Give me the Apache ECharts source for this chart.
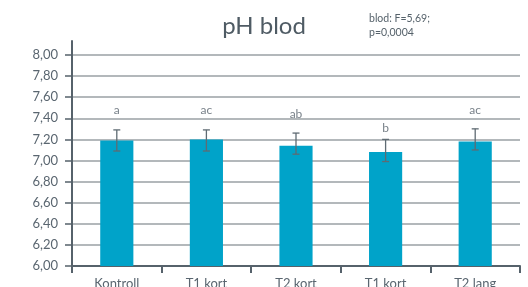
<!DOCTYPE html>
<html><head><meta charset="utf-8">
<script src="https://cdn.jsdelivr.net/npm/echarts@6/dist/echarts.min.js"></script>
<style>html,body{margin:0;padding:0;background:#fff}#c{width:528px;height:287px}</style>
</head><body><div id="c"></div>
<script>
const categories = ['Kontroll', 'T1 kort', 'T2 kort', 'T1 kort', 'T2 lang'];
const means = [7.19, 7.20, 7.14, 7.08, 7.18];
const errLow = [7.09, 7.09, 7.06, 6.99, 7.10];
const errHigh = [7.29, 7.29, 7.26, 7.20, 7.30];
const letters = ['a', 'ac', 'ab', 'b', 'ac'];
const letterY = [7.48, 7.48, 7.44, 7.31, 7.48];
const yTicks = { min: 6, max: 8, interval: 0.2 };

const txt = '#5a6670';
const chart = echarts.init(document.getElementById('c'));
chart.setOption({
  animation: false,
  textStyle: { fontFamily: 'Lato' },
  title: [
    { text: 'pH blod', left: 'center', top: 9, textStyle: { fontFamily: 'Lato', fontSize: 24, fontWeight: 'normal', color: '#4f5b64' } },
    { text: 'blod: F=5,69;\np=0,0004', left: 364, top: 7, textStyle: { fontFamily: 'Lato', fontSize: 10.5, fontWeight: 'normal', color: '#56626b', lineHeight: 14 } }
  ],
  grid: [
    { left: 72, right: 8, top: 55, bottom: 21, outerBoundsMode: 'none', containLabel: false },
    { left: 72, right: 8, top: 41, bottom: 21, outerBoundsMode: 'none', containLabel: false }
  ],
  xAxis: [
    { type: 'category', data: categories, gridIndex: 0,
      axisLine: { lineStyle: { color: '#56626b', width: 2 } },
      axisTick: { show: true, length: 7, lineStyle: { color: '#56626b', width: 2 } },
      axisLabel: { color: txt, fontSize: 13, margin: 11, fontFamily: 'Lato' } },
    { type: 'category', data: categories, gridIndex: 1, show: false }
  ],
  yAxis: [
    { type: 'value', gridIndex: 0, min: yTicks.min, max: yTicks.max, interval: yTicks.interval,
      axisLine: { show: true, lineStyle: { color: '#56626b', width: 2 } },
      axisTick: { show: true, length: 7, lineStyle: { color: '#56626b', width: 1.5 } },
      axisLabel: { color: txt, fontSize: 13, margin: 14, fontFamily: 'Lato',
        formatter: v => v.toFixed(2).replace('.', ',') },
      splitLine: { show: true, lineStyle: { color: '#9aa0a4', width: 1.5 } } },
    { type: 'value', gridIndex: 1, min: 0, max: 1,
      axisLine: { show: true, lineStyle: { color: '#56626b', width: 2 } },
      axisTick: { show: false }, axisLabel: { show: false }, splitLine: { show: false } }
  ],
  series: [
    { type: 'bar', data: means, barWidth: '37%', itemStyle: { color: '#00a3c9' }, z: 2 },
    { type: 'custom', z: 3,
      data: categories.map((c, i) => [i, errLow[i], errHigh[i]]),
      renderItem: (params, api) => {
        const lo = api.coord([api.value(0), api.value(1)]);
        const hi = api.coord([api.value(0), api.value(2)]);
        const w = 3.5;
        const st = { stroke: '#5f6b73', lineWidth: 1.3 };
        return { type: 'group', children: [
          { type: 'line', shape: { x1: hi[0], y1: hi[1], x2: lo[0], y2: lo[1] }, style: st },
          { type: 'line', shape: { x1: hi[0] - w, y1: hi[1], x2: hi[0] + w, y2: hi[1] }, style: st },
          { type: 'line', shape: { x1: lo[0] - w, y1: lo[1], x2: lo[0] + w, y2: lo[1] }, style: st }
        ] };
      } },
    { type: 'scatter', symbolSize: 0, z: 4,
      data: letterY.map((v, i) => ({ value: [i, v], name: letters[i] })),
      label: { show: true, position: 'inside', formatter: p => p.name, color: '#56626b', fontSize: 12, fontFamily: 'Lato' } }
  ]
});
</script></body></html>
